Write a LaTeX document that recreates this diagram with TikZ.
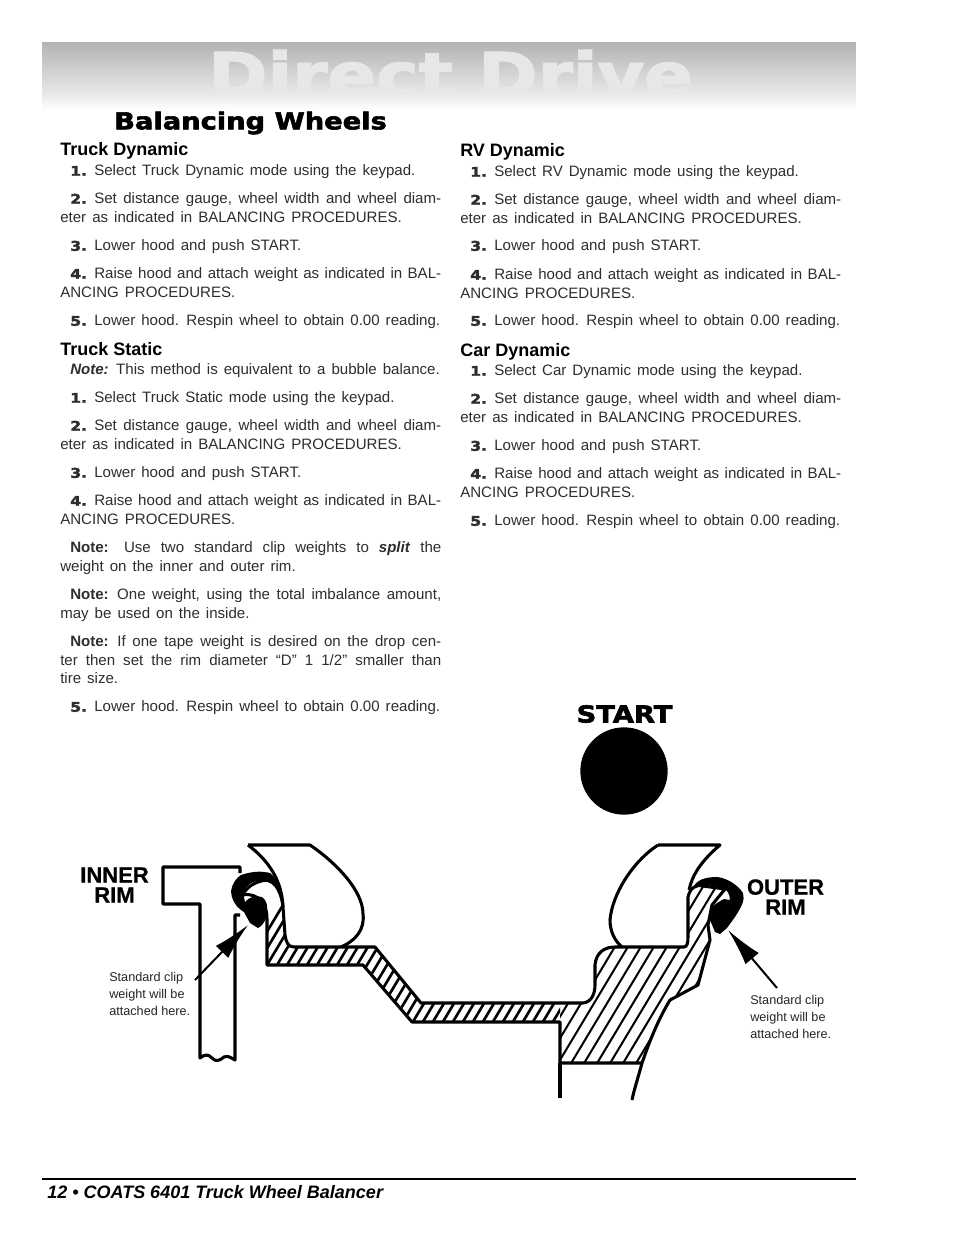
\documentclass[tikz,border=0pt]{standalone}
\usepackage{fontspec}
\setmainfont{Liberation Sans}
\newfontfamily\heavyfont{DejaVu Sans}[FakeStretch=1.17,BoldFeatures={FakeBold=2.5}]
\newfontfamily\rimfont{Liberation Sans}[BoldFeatures={FakeBold=0.8}]
\usetikzlibrary{arrows.meta}
\definecolor{bandmid}{gray}{0.905}
\newcommand{\stp}[1]{\hspace*{7.5pt}\makebox[18pt][l]{\heavyfont\bfseries\fontsize{10}{13.9}\selectfont #1}}
\newcommand{\nte}{\hspace*{7.5pt}\textbf{Note:}}
\newcommand{\rimoutline}{(243,895) .. controls (246,887) and (256,881) .. (267,880)
    .. controls (276,881) and (282,895) .. (283,907) -- (285,935)
    .. controls (286,942) and (288,947) .. (294,947) -- (375,947) -- (421,1003) -- (583,1003)
    .. controls (592,1002) and (595,993) .. (595,985) -- (595,965)
    .. controls (596,953) and (604,947) .. (615,947) -- (684,947)
    .. controls (687,947) and (688,943) .. (688,937) -- (688,897)
    .. controls (690,888) and (696,884) .. (703,886) -- (725,889) -- (712,905) -- (708,925)
    -- (710,940) -- (698,985) -- (670,1000)
    .. controls (658,1020) and (650,1040) .. (642,1063) -- (560,1063) -- (560,1022)
    -- (412,1022) -- (363,965) -- (267,965) -- (267,920)
    .. controls (268,905) and (258,892) .. cycle}
\begin{document}
\begin{tikzpicture}[x=0.75pt,y=-0.75pt]
    % Define the styles
    \tikzset{para/.style={anchor=north west, inner sep=0pt, text width=285.75pt, align=justify,
        font=\fontsize{11.3}{13.9}\selectfont, text=black!82,
        execute at begin node={\sloppy\spaceskip=0.4em plus 0.4em minus 0.08em\strut}}}
    \tikzset{head/.style={anchor=base west, inner sep=0pt, font=\bfseries\fontsize{13.5}{15}\selectfont}}
    \tikzset{heavy/.style={inner sep=0pt, font=\heavyfont\bfseries\fontsize{#1}{#1}\selectfont}}
    \tikzset{small/.style={anchor=north west, inner sep=0pt, align=left, text=black!85,
        font=\fontsize{9.5}{12.9}\selectfont}}
    \tikzset{rimlabel/.style={inner sep=0pt, align=center, font=\rimfont\bfseries\fontsize{16.5}{15}\selectfont}}
    \tikzset{ink/.style={draw, line width=2.3pt, line join=round}}
    \tikzset{pointer/.style={draw, line width=1.5pt, -{Latex[length=28pt,width=13pt]}}}
    \tikzset{strip/.style={fill=stripcol}}

    \useasboundingbox (0,0) rectangle (954,1235);
    \fill[white] (0,0) rectangle (954,1235);

    % Title band, one strip for each row
    \begin{scope}
        \clip (42,42) rectangle (856,110);
        \foreach \y in {42,...,91} {
            \pgfmathsetmacro{\lev}{0.70+0.205*(\y-42)/50}
            \definecolor{stripcol}{gray}{\lev}
            \path[strip] (42,\y) rectangle (856,\y+1.6);
        }
        \node[heavy=46, text=bandmid] (title) at (450.5,74) {Direct Drive};
        \foreach \y in {92,...,109} {
            \pgfmathsetmacro{\lev}{0.905+0.095*(\y-92)/18}
            \definecolor{stripcol}{gray}{\lev}
            \path[strip] (42,\y) rectangle (856,\y+1.6);
        }
    \end{scope}
    \node[heavy=17.5] (section) at (250.5,123) {Balancing Wheels};

    % Left column
    \node[head] (truckdyn) at (60,155) {Truck Dynamic};
    \node[para] (td1) at (60,162.5) {\stp{1.}Select Truck Dynamic mode using the keypad.};
    \node[para] (td2) at (60,190.5) {\stp{2.}Set distance gauge, wheel width and wheel diam-\linebreak eter as indicated in BALANCING PROCEDURES.};
    \node[para] (td3) at (60,237.5) {\stp{3.}Lower hood and push START.};
    \node[para] (td4) at (60,265.5) {\stp{4.}Raise hood and attach weight as indicated in BAL-\linebreak ANCING PROCEDURES.};
    \node[para] (td5) at (60,312.5) {\stp{5.}Lower hood. Respin wheel to obtain 0.00 reading.};

    \node[head] (truckstat) at (60,355) {Truck Static};
    \node[para] (ts0) at (60,361.5) {\hspace*{7.5pt}\textbf{\textit{Note:}} This method is equivalent to a bubble balance.};
    \node[para] (ts1) at (60,389.5) {\stp{1.}Select Truck Static mode using the keypad.};
    \node[para] (ts2) at (60,417.5) {\stp{2.}Set distance gauge, wheel width and wheel diam-\linebreak eter as indicated in BALANCING PROCEDURES.};
    \node[para] (ts3) at (60,464.5) {\stp{3.}Lower hood and push START.};
    \node[para] (ts4) at (60,492.5) {\stp{4.}Raise hood and attach weight as indicated in BAL-\linebreak ANCING PROCEDURES.};
    \node[para] (ts5) at (60,539.5) {\nte{} Use two standard clip weights to \textbf{\textit{split}} the\linebreak weight on the inner and outer rim.};
    \node[para] (ts6) at (60,586.5) {\nte{} One weight, using the total imbalance amount,\linebreak may be used on the inside.};
    \node[para] (ts7) at (60,633.5) {\nte{} If one tape weight is desired on the drop cen-\linebreak ter then set the rim diameter ``D'' 1 1/2" smaller than\linebreak tire size.};
    \node[para] (ts8) at (60,698.5) {\stp{5.}Lower hood. Respin wheel to obtain 0.00 reading.};

    % Right column
    \node[head] (rvdyn) at (460,156) {RV Dynamic};
    \node[para] (rv1) at (460,163.5) {\stp{1.}Select RV Dynamic mode using the keypad.};
    \node[para] (rv2) at (460,191.5) {\stp{2.}Set distance gauge, wheel width and wheel diam-\linebreak eter as indicated in BALANCING PROCEDURES.};
    \node[para] (rv3) at (460,237.5) {\stp{3.}Lower hood and push START.};
    \node[para] (rv4) at (460,266.5) {\stp{4.}Raise hood and attach weight as indicated in BAL-\linebreak ANCING PROCEDURES.};
    \node[para] (rv5) at (460,312.5) {\stp{5.}Lower hood. Respin wheel to obtain 0.00 reading.};

    \node[head] (cardyn) at (460,356) {Car Dynamic};
    \node[para] (cd1) at (460,362.5) {\stp{1.}Select Car Dynamic mode using the keypad.};
    \node[para] (cd2) at (460,390.5) {\stp{2.}Set distance gauge, wheel width and wheel diam-\linebreak eter as indicated in BALANCING PROCEDURES.};
    \node[para] (cd3) at (460,437.5) {\stp{3.}Lower hood and push START.};
    \node[para] (cd4) at (460,465.5) {\stp{4.}Raise hood and attach weight as indicated in BAL-\linebreak ANCING PROCEDURES.};
    \node[para] (cd5) at (460,512.5) {\stp{5.}Lower hood. Respin wheel to obtain 0.00 reading.};

    % Start button
    \node[heavy=17.5] (startlabel) at (624.5,714) {START};
    \node[circle, fill=black, minimum size=65.5pt, inner sep=0pt] (startbtn) at (624,771) {};

    % Hatched rim, denser on the thin band
    \begin{scope}
        \clip \rimoutline;
        \begin{scope}
            \clip (200,830) rectangle (560,1110);
            \foreach \x in {160,170,...,620}
                \draw[line width=2pt] (\x,1110) -- ++(198,-330);
        \end{scope}
        \begin{scope}
            \clip (560,830) rectangle (760,1110);
            \foreach \x in {400,413,...,700}
                \draw[line width=1.5pt] (\x,1110) -- ++(198,-330);
        \end{scope}
    \end{scope}
    \draw[ink] \rimoutline;
    \draw[ink] (560,1063) -- (560,1098);
    \draw[ink] (642,1063) .. controls (638,1078) and (634,1090) .. (632,1100);

    % Inner support
    \draw[ink] (240,873) -- (240,867) -- (163,867) -- (163,904) -- (200,904) -- (200,1058)
        .. controls (205,1054) and (208,1054) .. (212,1058) .. controls (216,1062) and (219,1061) .. (224,1057)
        .. controls (228,1055) and (231,1058) .. (235,1060) -- (235,915) -- (240,915);

    % Tires
    \draw[ink] (248,845) -- (310,845) .. controls (335,862) and (363,890) .. (363,914)
        .. controls (365,930) and (355,941) .. (341,947);
    \draw[ink] (248,845) .. controls (268,860) and (282,880) .. (283,907);
    \draw[ink] (658,845) -- (720,845) .. controls (700,862) and (692,876) .. (689,890);
    \draw[ink] (658,845) .. controls (632,862) and (612,895) .. (610,920)
        .. controls (610,932) and (615,941) .. (622,947);

    % Clips and weights
    \fill (241,875) .. controls (253,871) and (262,871) .. (270,873)
        .. controls (274,875) and (278,884) .. (280,892)
        .. controls (274,884) and (268,881) .. (262,881)
        .. controls (254,880) and (247,884) .. (243,893) -- (245,902)
        .. controls (249,897) and (256,895) .. (262,897)
        .. controls (266,900) and (268,905) .. (267,910)
        .. controls (267,918) and (265,924) .. (258,928) -- (250,923) -- (244,912) -- (241,910)
        .. controls (235,906) and (231,898) .. (231,891)
        .. controls (232,884) and (236,878) .. cycle;
    \fill (693,888) .. controls (696,880) and (705,877) .. (717,877)
        .. controls (727,878) and (738,885) .. (743,893)
        .. controls (745,900) and (742,906) .. (735,917) -- (727,928) -- (720,934) -- (715,932)
        -- (710,920) -- (710,910) .. controls (713,905) and (718,902) .. (724,899) -- (730,900)
        .. controls (730,893) and (726,888) .. (720,887) -- (705,885)
        .. controls (700,885) and (696,886) .. cycle;

    % Pointers
    \coordinate (innertail) at (195,980);
    \coordinate (innertip) at (248,925);
    \coordinate (outertail) at (777,988);
    \coordinate (outertip) at (728,930);
    \draw[pointer] (innertail) -- (innertip);
    \draw[pointer] (outertail) -- (outertip);

    % Labels
    \node[rimlabel] (innerrim) at (114.5,885) {INNER\\RIM};
    \node[rimlabel] (outerrim) at (785.5,897) {OUTER\\RIM};
    \node[small] (innernote) at (109,972) {Standard clip\\weight will be\\attached here.};
    \node[small] (outernote) at (750,995) {Standard clip\\weight will be\\attached here.};

    % Footer
    \draw[line width=1.5pt] (42,1179) coordinate (ruleleft) -- (856,1179) coordinate (ruleright);
    \node[anchor=west, inner sep=0pt, font=\bfseries\itshape\fontsize{13.5}{15}\selectfont] (footer) at (47,1192) {12 • COATS 6401 Truck Wheel Balancer};
\end{tikzpicture}
\end{document}
